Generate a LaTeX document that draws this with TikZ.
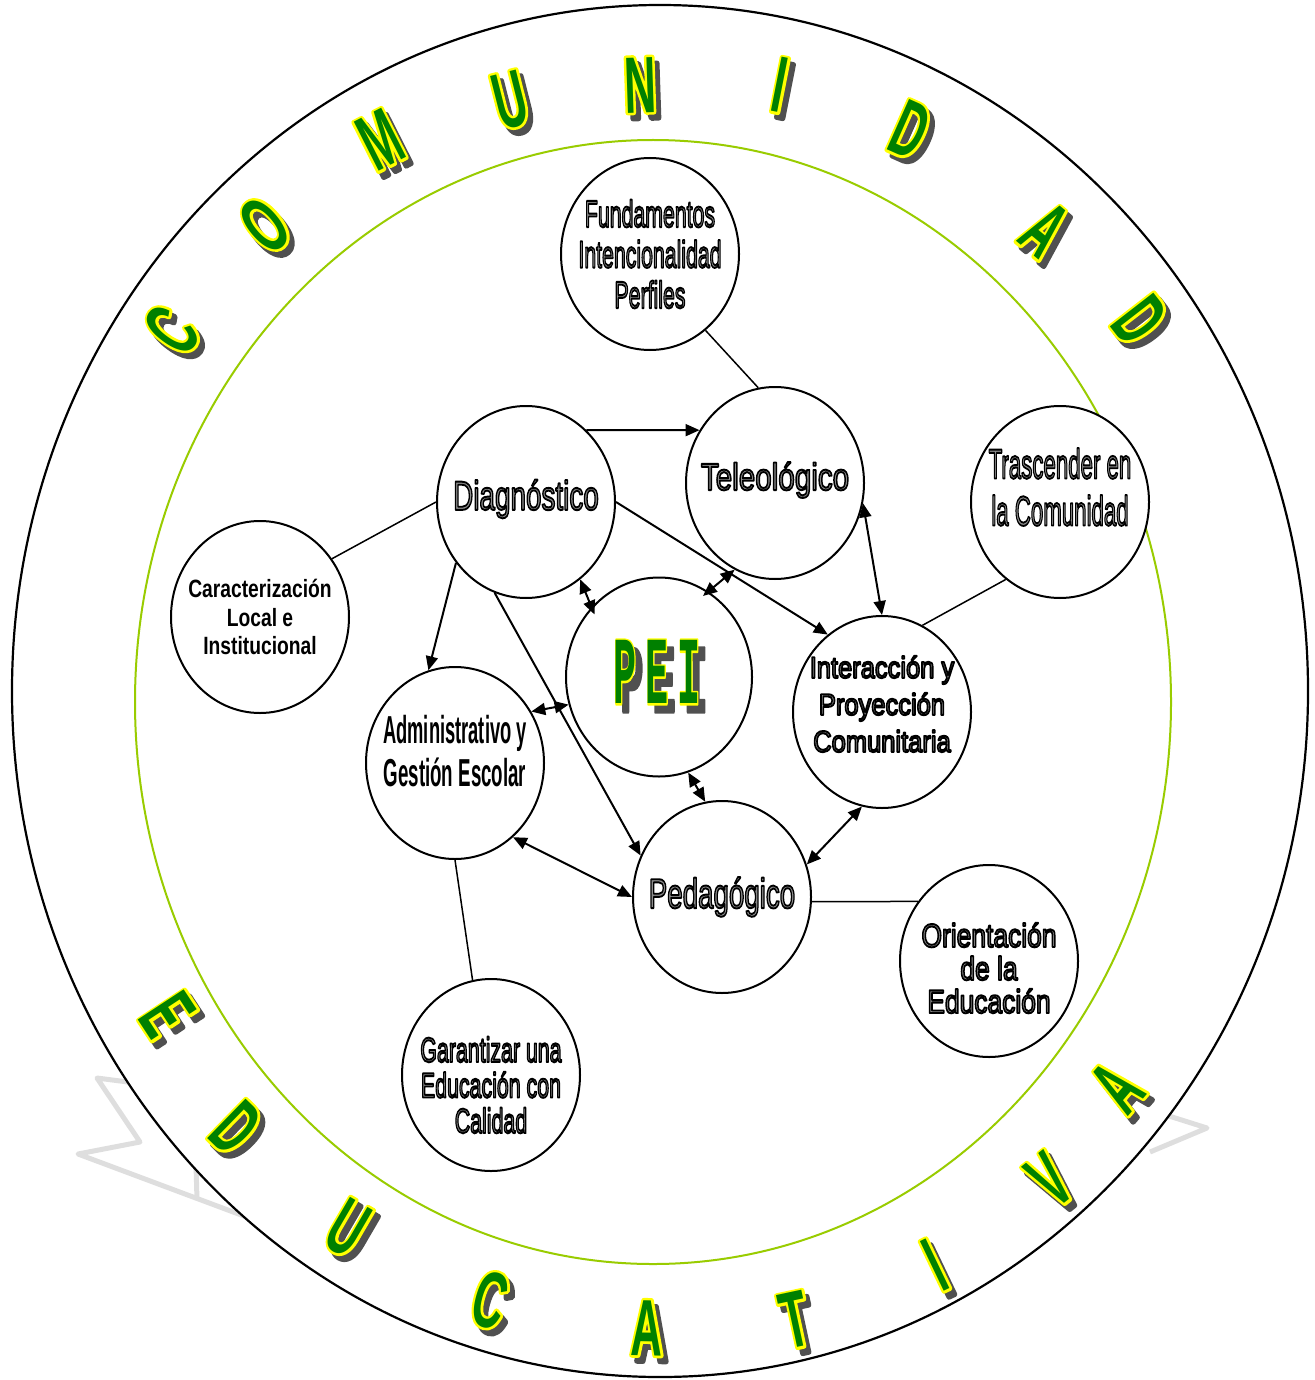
\documentclass[tikz,border=0pt]{standalone}
\usepackage{fontspec}
\setmainfont{Liberation Sans}
\newfontfamily\rimfont{Liberation Sans}[FakeStretch=0.55]
\newfontfamily\peifont{Liberation Mono}
\usepackage{xcolor}
\usepackage{graphicx}
\usepackage{tikz}
\usetikzlibrary{arrows.meta,shapes.geometric}
\definecolor{cLeaf}{RGB}{0,128,0}
\definecolor{cGold}{RGB}{255,255,0}
\definecolor{cShade}{RGB}{80,80,80}
\definecolor{cLime}{RGB}{153,204,0}
\definecolor{cMist}{RGB}{222,222,222}
\tikzset{
  stage/.style={ellipse, draw, line width=2pt, fill=white,
                minimum width=178pt, minimum height=192pt, inner sep=0pt},
  word/.style={align=center, inner sep=0pt},
  link/.style={line width=1.5pt},
  arr/.style={-{Triangle[length=14pt,width=12pt]}, line width=2pt},
  darr/.style={{Triangle[length=14pt,width=12pt]}-{Triangle[length=14pt,width=12pt]}, line width=2pt},
  rim/.style={inner sep=0pt, font=\rimfont\bfseries\fontsize{80}{80}\selectfont},
  pei/.style={inner sep=0pt, font=\peifont\bfseries\fontsize{96}{96}\selectfont},
}
% stroked glyphs (text render mode 2): fill in the current colour, edge as given
\newcommand{\stroked}[2]{\special{pdf:literal direct 1 j #1 2 Tr}#2\special{pdf:literal direct 0 Tr}}
\newcommand{\hollow}[2]{\textcolor{black!45}{\stroked{0 G 1.9 w}{\scalebox{#1}[1]{#2}}}}
\newcommand{\solid}[2]{\scalebox{#1}[1]{\bfseries #2}}
\newcommand{\rimglyph}[2][5]{\rlap{\textcolor{cGold}{\stroked{#1 w}{#2}}}\textcolor{cLeaf}{#2}}
\newcommand{\rimshade}[2][5]{\textcolor{cShade}{\stroked{#1 w}{#2}}}
\newcommand{\peiword}{\scalebox{0.4}[1]{P}\hspace{9pt}\scalebox{0.4}[1]{E}\hspace{9pt}\scalebox{0.4}[1]{I}}

\begin{document}
\begin{tikzpicture}[x=1pt, y=-1pt]
  \useasboundingbox (0,0) rectangle (1314,1380);
  % faint watermark behind the rings
  \draw[cMist, line width=5pt, line join=round] (205,1092) -- (97,1078) -- (140,1142) -- (78,1154) -- (260,1222);
  \draw[cMist, line width=5pt] (197,1200) -- (196,1165);
  \draw[cMist, line width=5pt, line join=round] (1150,1110) -- (1207,1128) -- (1150,1152);
  % rings
  \draw[line width=2.2pt, fill=white] (660,691) ellipse [x radius=648, y radius=686];
  \draw[cLime, line width=2pt] (653,702) ellipse [x radius=518, y radius=562];
  % letters round the ring
  \foreach \letr/\px/\py [count=\i] in {C/172/330,O/265/225,M/380/140,U/510/100,N/640/85,I/780/85,D/910/130,A/1045/230,D/1140/320}{
    \pgfmathsetmacro{\tilt}{atan2(692-\py,\px-660)-90}
    \node[rim, rotate=\tilt] (topsh\i) at (\px+5,\py+6) {\rimshade{\letr}};
    \node[rim, rotate=\tilt] (top\i) at (\px,\py) {\rimglyph{\letr}};
  }
  \foreach \letr/\px/\py [count=\i] in {E/168/1015,D/236/1128,U/348/1228,C/490/1300,A/647/1328,T/795/1320,I/935/1265,V/1050/1180,A/1117/1087}{
    \pgfmathsetmacro{\tilt}{atan2(692-\py,\px-660)+90}
    \node[rim, rotate=\tilt] (botsh\i) at (\px+5,\py+6) {\rimshade{\letr}};
    \node[rim, rotate=\tilt] (bot\i) at (\px,\py) {\rimglyph{\letr}};
  }
  % stages
  \node[stage, label={[word, font=\fontsize{38}{40.5}\selectfont]center:{\hollow{0.56}{Fundamentos}\\\hollow{0.56}{Intencionalidad}\\\hollow{0.56}{Perfiles}}}] (fund) at (650,254) {};
  \node[stage, label={[word, yshift=3pt, font=\fontsize{41}{44}\selectfont]center:{\hollow{0.68}{Diagnóstico}}}] (diag) at (526,502) {};
  \node[stage, label={[word, yshift=3pt, font=\fontsize{38}{40}\selectfont]center:{\hollow{0.78}{Teleológico}}}] (tele) at (775,483) {};
  \node[stage, label={[word, yshift=15pt, font=\fontsize{42}{47}\selectfont]center:{\hollow{0.53}{Trascender en}\\\hollow{0.53}{la Comunidad}}}] (trasc) at (1060,502) {};
  \node[stage, label={[word, yshift=8pt, font=\fontsize{30}{37}\selectfont]center:{\hollow{0.85}{Interacción y}\\\hollow{0.85}{Proyección}\\\hollow{0.85}{Comunitaria}}}] (inter) at (882,712) {};
  \node[stage, label={[word, font=\fontsize{25}{28.5}\selectfont]center:{\solid{0.77}{Caracterización}\\\solid{0.77}{Local e}\\\solid{0.77}{Institucional}}}] (carac) at (260,617) {};
  \node[stage, label={[word, yshift=12pt, font=\fontsize{39}{43}\selectfont]center:{\solid{0.47}{Administrativo y}\\\solid{0.48}{Gestión Escolar}}}] (admin) at (455,763) {};
  \node[stage, label={[word, font=\fontsize{42}{44}\selectfont]center:{\hollow{0.66}{Pedagógico}}}] (ped) at (722,897) {};
  \node[stage, label={[word, yshift=-7pt, font=\fontsize{33}{33}\selectfont]center:{\hollow{0.8}{Orientación}\\\hollow{0.8}{de la}\\\hollow{0.8}{Educación}}}] (orient) at (989,961) {};
  \node[stage, label={[word, yshift=-10pt, font=\fontsize{35}{35.5}\selectfont]center:{\hollow{0.61}{Garantizar una}\\\hollow{0.61}{Educación con}\\\hollow{0.61}{Calidad}}}] (garant) at (491,1075) {};
  \node[stage, minimum width=186pt, minimum height=199pt] (peic) at (659,677) {};
  \node[pei] (peish) at (664,680) {\rimshade[4]{\peiword}};
  \node[pei] (peitx) at (657,672) {\rimglyph[4]{\peiword}};
  % connectors
  \draw[link] (fund.-54) -- (tele.100);
  \draw[link] (diag.180) -- (carac.39);
  \draw[link] (trasc.235) -- (inter.65);
  \draw[link] (admin.270) -- (garant.101);
  \draw[link] (ped.357) -- (orient.140);
  \draw[arr] (diag.50) -- (tele.145);
  \draw[arr] (diag.0) -- (inter.125);
  \draw[arr] (diag.221) -- (admin.106);
  \draw[arr] (diag.251) -- (ped.153);
  \draw[darr, shorten >=-8pt] (diag.305) -- (peic.134);
  \draw[darr, shorten >=-7pt] (tele.245) -- (peic.60);
  \draw[darr] (tele.347) -- (inter.90);
  \draw[darr] (peic.197) -- (admin.34);
  \draw[darr] (peic.287) -- (ped.100);
  \draw[darr] (inter.258) -- (ped.21);
  \draw[darr] (admin.308) -- (ped.180);
\end{tikzpicture}
\end{document}
